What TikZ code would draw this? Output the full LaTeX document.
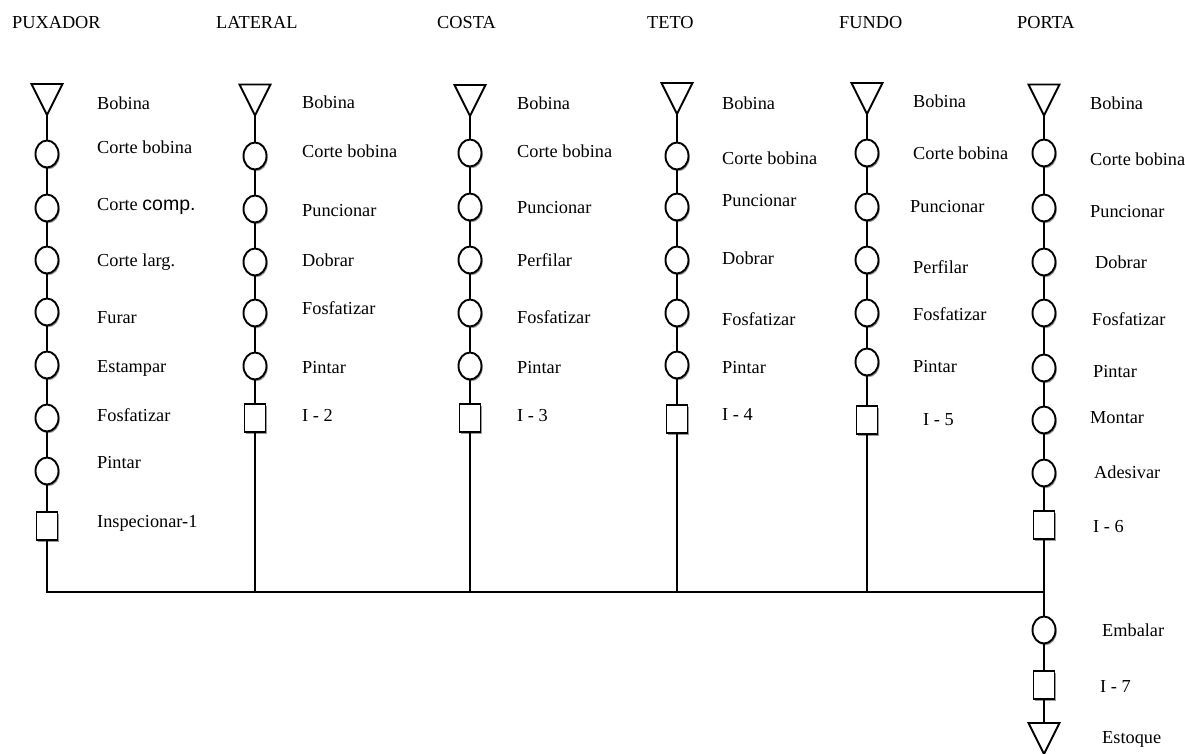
\documentclass[tikz,border=0pt]{standalone}
\usepackage{fontspec}
\setmainfont{Liberation Serif}
\newfontfamily\arialfont{Liberation Sans}
\usetikzlibrary{shapes.geometric,shadows}
\tikzset{
  ln/.style={line width=1.9pt},
  shd/.style={drop shadow={shadow xshift=1.2pt, shadow yshift=-1.8pt, fill=black!40, opacity=1}},
  opc/.style={ellipse, draw, line width=1.9pt, fill=white, minimum width=23pt, minimum height=27pt, inner sep=0pt, shd},
  insp/.style={rectangle, draw, line width=1.9pt, fill=white, minimum width=21pt, minimum height=28pt, inner sep=0pt, shd},
  trn/.style={inner sep=0pt, outer sep=0pt, minimum width=31pt, minimum height=31pt},
  lbl/.style={anchor=base west, inner sep=0pt, font=\fontsize{18.3pt}{22pt}\selectfont},
}
\newcommand\tri[3]{\node[trn] (#1) at (#2,#3) {};
  \draw[ln, line join=miter] (#1.north west) -- (#1.north east) -- (#1.south) -- cycle;}
\begin{document}
\begin{tikzpicture}[x=1pt, y=-1pt]
\useasboundingbox (0,0) rectangle (1185,754);

% headers
\node[lbl] (h1) at (12,29) {PUXADOR};
\node[lbl] (h2) at (216,29) {LATERAL};
\node[lbl] (h3) at (437,29) {COSTA};
\node[lbl] (h4) at (647,29) {TETO};
\node[lbl] (h5) at (839,29) {FUNDO};
\node[lbl] (h6) at (1017,29) {PORTA};

% ---------- PUXADOR ----------
\tri{p0}{47}{99.5}
\node[opc] (p1) at (47,154) {};
\node[opc] (p2) at (47,208) {};
\node[opc] (p3) at (47,260) {};
\node[opc] (p4) at (47,312) {};
\node[opc] (p5) at (47,365) {};
\node[opc] (p6) at (47,418) {};
\node[opc] (p7) at (47,471) {};
\node[insp] (p8) at (47,526) {};
\node[lbl] (pl0) at (97,110) {Bobina};
\node[lbl] (pl1) at (97,154) {Corte bobina};
\node[lbl] (pl2) at (97,210) {Corte {\arialfont\fontsize{19.5pt}{22pt}\selectfont comp.}};
\node[lbl] (pl3) at (97,266) {Corte larg.};
\node[lbl] (pl4) at (97,323) {Furar};
\node[lbl] (pl5) at (97,372) {Estampar};
\node[lbl] (pl6) at (97,421) {Fosfatizar};
\node[lbl] (pl7) at (97,468) {Pintar};
\node[lbl] (pl8) at (97,527) {Inspecionar-1};

% ---------- LATERAL ----------
\tri{l0}{255}{100}
\node[opc] (l1) at (255,156) {};
\node[opc] (l2) at (255,209) {};
\node[opc] (l3) at (255,262) {};
\node[opc] (l4) at (255,313) {};
\node[opc] (l5) at (255,366) {};
\node[insp] (l6) at (255,418) {};
\node[lbl] (ll0) at (302,109) {Bobina};
\node[lbl] (ll1) at (302,158) {Corte bobina};
\node[lbl] (ll2) at (302,216) {Puncionar};
\node[lbl] (ll3) at (302,266) {Dobrar};
\node[lbl] (ll4) at (302,314) {Fosfatizar};
\node[lbl] (ll5) at (302,373) {Pintar};
\node[lbl] (ll6) at (302,421) {I - 2};

% ---------- COSTA ----------
\tri{c0}{470}{100.5}
\node[opc] (c1) at (470,153) {};
\node[opc] (c2) at (470,207) {};
\node[opc] (c3) at (470,260) {};
\node[opc] (c4) at (470,313) {};
\node[opc] (c5) at (470,366) {};
\node[insp] (c6) at (470,418) {};
\node[lbl] (cl0) at (517,110) {Bobina};
\node[lbl] (cl1) at (517,158) {Corte bobina};
\node[lbl] (cl2) at (517,213) {Puncionar};
\node[lbl] (cl3) at (517,266) {Perfilar};
\node[lbl] (cl4) at (517,323) {Fosfatizar};
\node[lbl] (cl5) at (517,373) {Pintar};
\node[lbl] (cl6) at (517,421) {I - 3};

% ---------- TETO ----------
\tri{t0}{677}{98.5}
\node[opc] (t1) at (677,156) {};
\node[opc] (t2) at (677,207) {};
\node[opc] (t3) at (677,260) {};
\node[opc] (t4) at (677,313) {};
\node[opc] (t5) at (677,365) {};
\node[insp] (t6) at (677,419) {};
\node[lbl] (tl0) at (722,110) {Bobina};
\node[lbl] (tl1) at (722,165) {Corte bobina};
\node[lbl] (tl2) at (722,207) {Puncionar};
\node[lbl] (tl3) at (722,264) {Dobrar};
\node[lbl] (tl4) at (722,325) {Fosfatizar};
\node[lbl] (tl5) at (722,373) {Pintar};
\node[lbl] (tl6) at (722,420) {I - 4};

% ---------- FUNDO ----------
\tri{f0}{867}{98.5}
\node[opc] (f1) at (867,153) {};
\node[opc] (f2) at (867,207) {};
\node[opc] (f3) at (867,260) {};
\node[opc] (f4) at (867,313) {};
\node[opc] (f5) at (867,362) {};
\node[insp] (f6) at (867,420) {};
\node[lbl] (fl0) at (913,108) {Bobina};
\node[lbl] (fl1) at (913,160) {Corte bobina};
\node[lbl] (fl2) at (910,212) {Puncionar};
\node[lbl] (fl3) at (913,273) {Perfilar};
\node[lbl] (fl4) at (913,320) {Fosfatizar};
\node[lbl] (fl5) at (913,372) {Pintar};
\node[lbl] (fl6) at (923,425) {I - 5};

% ---------- PORTA ----------
\tri{r0}{1044}{100}
\node[opc] (r1) at (1044,153) {};
\node[opc] (r2) at (1044,208) {};
\node[opc] (r3) at (1044,262) {};
\node[opc] (r4) at (1044,313) {};
\node[opc] (r5) at (1044,368) {};
\node[opc] (r6) at (1044,420) {};
\node[opc] (r7) at (1044,473) {};
\node[insp] (r8) at (1044,525) {};
\node[lbl] (rl0) at (1090,110) {Bobina};
\node[lbl] (rl1) at (1090,166) {Corte bobina};
\node[lbl] (rl2) at (1090,217) {Puncionar};
\node[lbl] (rl3) at (1095,268) {Dobrar};
\node[lbl] (rl4) at (1092,325) {Fosfatizar};
\node[lbl] (rl5) at (1093,377) {Pintar};
\node[lbl] (rl6) at (1090,423) {Montar};
\node[lbl] (rl7) at (1094,478) {Adesivar};
\node[lbl] (rl8) at (1093,532) {I - 6};

% ---------- final ----------
\node[opc] (e1) at (1044,630) {};
\node[insp] (e2) at (1044,685) {};
\node[trn] (e3) at (1044,738.5) {};
\draw[ln, line join=miter] (e3.north west) -- (e3.north east) -- (e3.south) -- cycle;
\node[lbl] (el1) at (1102,636) {Embalar};
\node[lbl] (el2) at (1100,692) {I - 7};
\node[lbl] (el3) at (1102,743) {Estoque};

% bus coordinates
\coordinate (bA) at (47,592);
\coordinate (bF) at (1044,592);

% connectors
\draw[ln] (p0) -- (p1) -- (p2) -- (p3) -- (p4) -- (p5) -- (p6) -- (p7) -- (p8);
\draw[ln] (l0) -- (l1) -- (l2) -- (l3) -- (l4) -- (l5) -- (l6);
\draw[ln] (c0) -- (c1) -- (c2) -- (c3) -- (c4) -- (c5) -- (c6);
\draw[ln] (t0) -- (t1) -- (t2) -- (t3) -- (t4) -- (t5) -- (t6);
\draw[ln] (f0) -- (f1) -- (f2) -- (f3) -- (f4) -- (f5) -- (f6);
\draw[ln] (r0) -- (r1) -- (r2) -- (r3) -- (r4) -- (r5) -- (r6) -- (r7) -- (r8);
\draw[ln] (p8) |- (bF);
\draw[ln] (l6) -- (l6 |- bA);
\draw[ln] (c6) -- (c6 |- bA);
\draw[ln] (t6) -- (t6 |- bA);
\draw[ln] (f6) -- (f6 |- bA);
\draw[ln] (r8) -- (e1) -- (e2) -- (e3);
\end{tikzpicture}
\end{document}
